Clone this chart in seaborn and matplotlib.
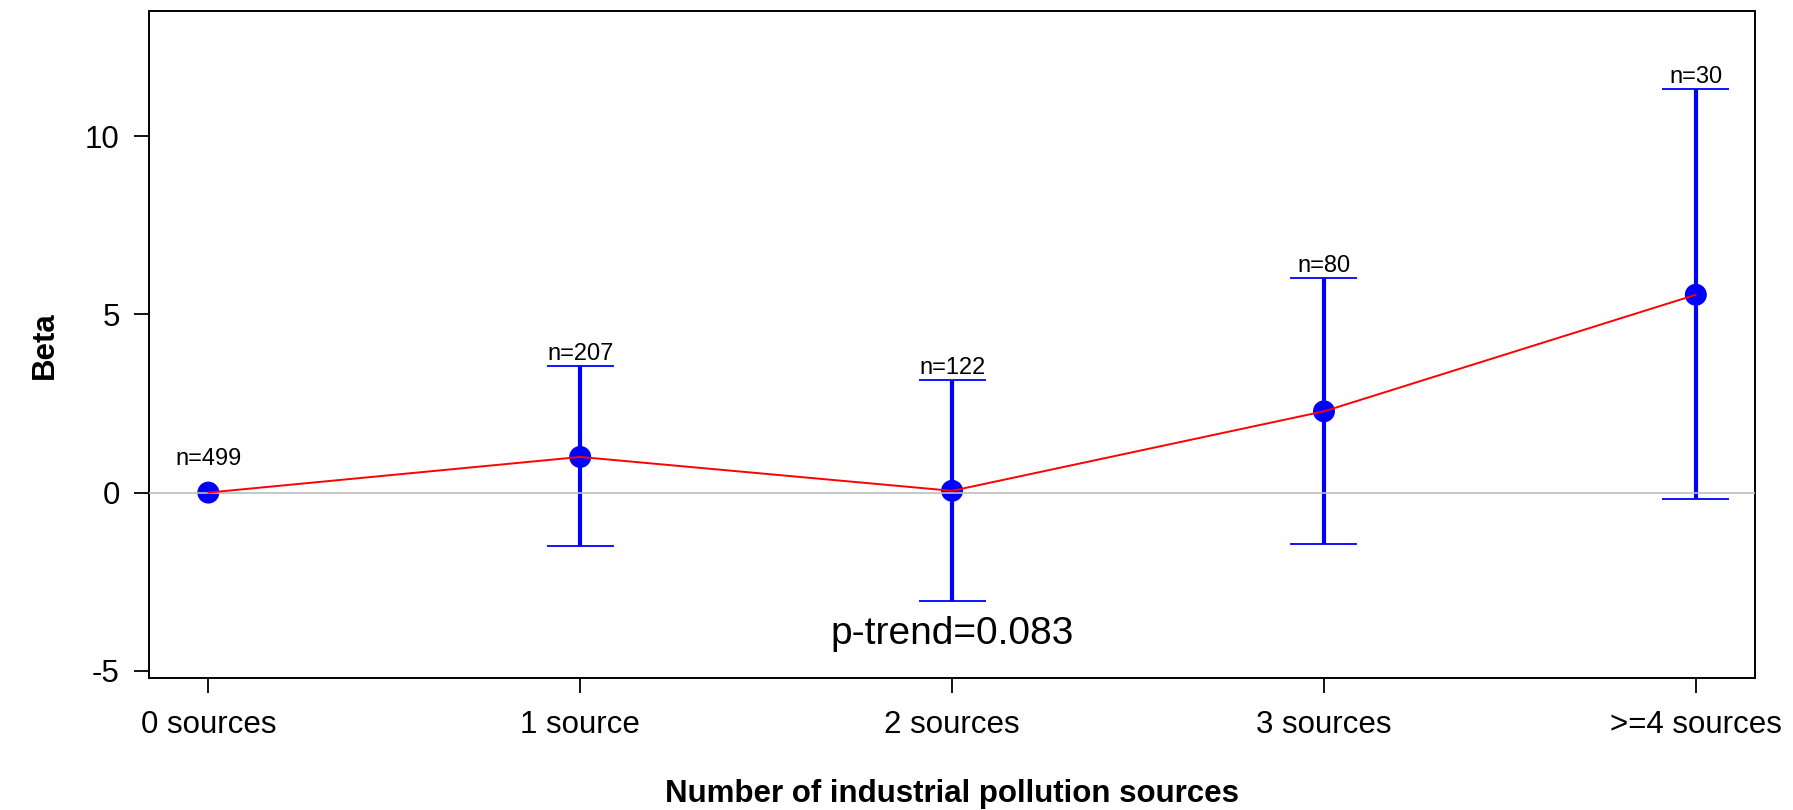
import matplotlib
matplotlib.use('Agg')
import matplotlib.pyplot as plt
import seaborn as sns
import pandas as pd

# values
categories = ["0 sources", "1 source", "2 sources", "3 sources", ">=4 sources"]
beta = [0.0, 1.0, 0.05, 2.28, 5.55]
ci_low = [0.0, -1.50, -3.04, -1.44, -0.19]
ci_high = [0.0, 3.56, 3.15, 6.02, 11.31]
n_labels = ["n=499", "n=207", "n=122", "n=80", "n=30"]
p_trend = "p-trend=0.083"

df = pd.DataFrame({"pos": range(len(categories)), "beta": beta,
                   "lo": ci_low, "hi": ci_high, "n": n_labels})

sns.set_style("ticks")
plt.rcParams['font.family'] = ['Liberation Sans', 'DejaVu Sans']
plt.rcParams['text.color'] = 'black'
plt.rcParams['axes.labelcolor'] = 'black'
plt.rcParams['xtick.color'] = 'black'
plt.rcParams['ytick.color'] = 'black'

fig = plt.figure(figsize=(17.93, 8.1), dpi=100)
ax = fig.add_axes([0.083, 0.163, 0.896, 0.823])

# confidence intervals (the reference category has none)
ci = df[df["hi"] != df["lo"]]
ax.vlines(ci["pos"], ci["lo"], ci["hi"], color="blue", lw=3, zorder=2)
ax.hlines(ci["lo"], ci["pos"] - 0.09, ci["pos"] + 0.09, color="blue", lw=1.3, zorder=2)
ax.hlines(ci["hi"], ci["pos"] - 0.09, ci["pos"] + 0.09, color="blue", lw=1.3, zorder=2)

sns.scatterplot(data=df, x="pos", y="beta", color="blue", s=250, edgecolor="none",
                ax=ax, zorder=3)
ax.axhline(0, color="#BEBEBE", lw=1.2, zorder=4)
sns.lineplot(data=df, x="pos", y="beta", color="red", lw=1.4, ax=ax, zorder=5)

# sample sizes above the upper caps
for _, r in df.iterrows():
    y = r["hi"] if r["hi"] != r["lo"] else r["beta"] + 0.6
    ax.text(r["pos"], y + 0.03, r["n"], ha="center", va="bottom", fontsize=17)

ax.text(2, -3.97, p_trend, ha="center", va="center", fontsize=28)

ax.set_xlim(-0.16, 4.16)
ax.set_ylim(-5.2, 13.5)
ax.set_xticks(df["pos"])
ax.set_xticklabels(categories)
ax.set_yticks([-5, 0, 5, 10])
ax.set_yticklabels(["-5", "0", "5", "10"])
ax.tick_params(axis="both", labelsize=22.5, length=11, width=1.3, color="black", direction="out")
ax.tick_params(axis="x", pad=12)
ax.tick_params(axis="y", pad=10)
for s in ax.spines.values():
    s.set_visible(True)
    s.set_color("black")
    s.set_linewidth(1.4)

ax.set_xlabel("Number of industrial pollution sources", fontsize=22.5, fontweight="bold", labelpad=28)
ax.set_ylabel("Beta", fontsize=22.5, fontweight="bold", labelpad=18)

fig.savefig("out.png", dpi=100, facecolor="white")
